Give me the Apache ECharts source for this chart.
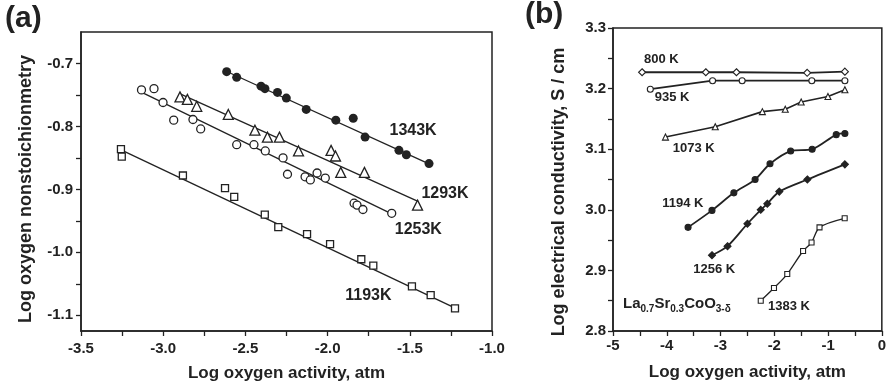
<!DOCTYPE html>
<html>
<head>
<meta charset="utf-8">
<script src="https://cdn.jsdelivr.net/npm/echarts@6/dist/echarts.min.js"></script>
<style>
html,body{margin:0;padding:0;background:#fff;}
#main{width:889px;height:388px;}
</style>
</head>
<body>
<div id="main"></div>
<script>
// ---- panel (a) : log nonstoichiometry vs log oxygen activity
var a1343 = [[-2.614,-0.713],[-2.553,-0.722],[-2.405,-0.736],[-2.381,-0.740],[-2.305,-0.746],[-2.251,-0.755],
    [-2.130,-0.773],[-1.950,-0.790],[-1.844,-0.787],[-1.772,-0.817],[-1.566,-0.838],[-1.521,-0.845],[-1.383,-0.859]];
var a1293 = [[-2.898,-0.753],[-2.853,-0.757],[-2.796,-0.768],[-2.604,-0.781],[-2.442,-0.806],[-2.366,-0.817],
    [-2.293,-0.817],[-2.177,-0.839],[-1.979,-0.838],[-1.952,-0.847],[-1.920,-0.873],[-1.776,-0.873],[-1.453,-0.925]];
var a1253 = [[-3.132,-0.742],[-3.056,-0.740],[-3.001,-0.762],[-2.936,-0.790],[-2.819,-0.789],[-2.772,-0.804],
    [-2.553,-0.829],[-2.448,-0.829],[-2.379,-0.839],[-2.271,-0.850],[-2.244,-0.876],[-2.137,-0.880],[-2.105,-0.885],
    [-2.064,-0.874],[-2.014,-0.882],[-1.839,-0.922],[-1.821,-0.925],[-1.785,-0.932],[-1.610,-0.938]];
var a1193 = [[-3.257,-0.836],[-3.252,-0.848],[-2.880,-0.878],[-2.624,-0.898],[-2.568,-0.912],[-2.382,-0.940],
    [-2.300,-0.960],[-2.125,-0.971],[-1.985,-0.987],[-1.795,-1.011],[-1.722,-1.021],[-1.487,-1.054],[-1.373,-1.068],[-1.225,-1.089]];
// fitted lines (end points)
var fit1343 = [[-2.62,-0.712],[-1.38,-0.860]];
var fit1293 = [[-2.90,-0.748],[-1.45,-0.919]];
var fit1253 = [[-3.13,-0.746],[-1.61,-0.939]];
var fit1193 = [[-3.25,-0.838],[-1.22,-1.089]];
var notesA = [['1343K',-1.48,-0.806],['1293K',-1.286,-0.906],['1253K',-1.448,-0.964],['1193K',-1.752,-1.068]];
var yTicksA = [-1.1,-1.05,-1.0,-0.95,-0.9,-0.85,-0.8,-0.75,-0.7];
var yLabelsA = [-1.1,-1.0,-0.9,-0.8,-0.7];

// ---- panel (b) : log conductivity vs log oxygen activity
var b800  = [[-4.459,3.227],[-3.274,3.227],[-2.704,3.227],[-1.389,3.226],[-0.687,3.228]];
var b935  = [[-4.306,3.199],[-3.148,3.213],[-2.598,3.213],[-1.302,3.213],[-0.687,3.213]];
var b1073 = [[-4.024,3.120],[-3.098,3.137],[-2.222,3.162],[-1.796,3.166],[-1.500,3.178],[-1.002,3.187],[-0.687,3.198]];
var b1194 = [[-3.604,2.971],[-3.159,2.999],[-2.752,3.028],[-2.357,3.050],[-2.080,3.076],[-1.696,3.097],
    [-1.296,3.100],[-0.848,3.124],[-0.687,3.126]];
var b1256 = [[-3.159,2.925],[-2.870,2.940],[-2.500,2.977],[-2.252,3.000],[-2.130,3.010],[-1.907,3.030],
    [-1.385,3.050],[-0.687,3.075]];
var b1383 = [[-2.252,2.850],[-2.006,2.871],[-1.759,2.894],[-1.465,2.932],[-1.307,2.946],[-1.159,2.971],[-0.691,2.986]];
var notesB = [['800 K',-4.10,3.248],['935 K',-3.90,3.185],['1073 K',-3.50,3.1015],['1194 K',-3.70,3.011],
    ['1256 K',-3.117,2.902],['1383 K',-1.728,2.840]];

var FONT = "'Liberation Sans', Arial, sans-serif";
var INK = '#222';

function scat(data, symbol, size, filled, gi) {
    return {
        type: 'scatter', xAxisIndex: gi, yAxisIndex: gi, data: data,
        symbol: symbol, symbolSize: size, z: 3,
        itemStyle: { opacity: 1, color: filled ? INK : '#fff', borderColor: INK, borderWidth: filled ? 0 : 1.3 }
    };
}
function fitLine(data) {
    return {
        type: 'line', xAxisIndex: 0, yAxisIndex: 0, data: data, symbol: 'none', z: 2,
        lineStyle: { color: INK, width: 1.3 }
    };
}
function curve(data, symbol, size, filled, smooth, w) {
    return {
        type: 'line', xAxisIndex: 1, yAxisIndex: 1, data: data, smooth: smooth,
        symbol: symbol, symbolSize: size, showSymbol: true,
        lineStyle: { color: INK, width: w },
        itemStyle: { color: filled ? INK : '#fff', borderColor: INK, borderWidth: 1.1 }
    };
}
function notes(list, gi, size) {
    return {
        type: 'scatter', xAxisIndex: gi, yAxisIndex: gi, symbolSize: 1, z: 4,
        itemStyle: { opacity: 1, color: 'rgba(0,0,0,0)' },
        data: list.map(function (n) { return { name: n[0], value: [n[1], n[2]] }; }),
        label: { show: true, position: 'inside', formatter: '{b}', color: INK, opacity: 1,
            fontFamily: FONT, fontWeight: 'bold', fontSize: size }
    };
}

var axisBase = {
    axisLine: { onZero: false, lineStyle: { color: INK, width: 1.5 } },
    axisTick: { show: true, inside: false, length: 5, lineStyle: { color: INK, width: 1.3 } },
    splitLine: { show: false },
    nameLocation: 'middle',
    nameTextStyle: { fontFamily: FONT, fontWeight: 'bold', fontSize: 17, color: INK }
};
function ax(o) { return Object.assign({}, JSON.parse(JSON.stringify(axisBase)), o); }

var chart = echarts.init(document.getElementById('main'));
chart.setOption({
    animation: false,
    backgroundColor: '#fff',
    grid: [
        { left: 81, top: 32, width: 411, height: 299, show: true, borderColor: INK, borderWidth: 1.5 },
        { left: 613, top: 28, width: 270, height: 303, show: true, borderColor: INK, borderWidth: 1.5 }
    ],
    xAxis: [
        ax({ type: 'value', gridIndex: 0, min: -3.5, max: -1.0, interval: 0.25,
            name: 'Log oxygen activity, atm', nameGap: 34,
            axisLabel: { margin: 10, color: INK, fontFamily: FONT, fontWeight: 'bold', fontSize: 15,
                formatter: function (v) { return Math.abs(v * 2 - Math.round(v * 2)) < 1e-6 ? v.toFixed(1) : ''; } } }),
        ax({ type: 'value', gridIndex: 1, min: -5, max: 0, interval: 0.5,
            name: 'Log oxygen activity, atm', nameGap: 33,
            axisLabel: { margin: 7, color: INK, fontFamily: FONT, fontWeight: 'bold', fontSize: 15,
                formatter: function (v) { return Math.abs(v - Math.round(v)) < 1e-6 ? String(Math.round(v)) : ''; } } })
    ],
    yAxis: [
        ax({ type: 'value', gridIndex: 0, min: -1.125, max: -0.65,
            name: 'Log oxygen nonstoichionmetry', nameGap: 46,
            nameTextStyle: { fontFamily: FONT, fontWeight: 'bold', fontSize: 18, color: INK, padding: [0, 15, 0, 0] },
            axisTick: { show: true, inside: false, length: 5, customValues: yTicksA, lineStyle: { color: INK, width: 1.3 } },
            axisLabel: { margin: 8, customValues: yLabelsA, color: INK, fontFamily: FONT, fontWeight: 'bold', fontSize: 15,
                formatter: function (v) { return v.toFixed(1); } } }),
        ax({ type: 'value', gridIndex: 1, min: 2.8, max: 3.3, interval: 0.05,
            name: 'Log electrical conductivity, S / cm', nameGap: 45,
            nameTextStyle: { fontFamily: FONT, fontWeight: 'bold', fontSize: 18, color: INK, padding: [0, 25, 0, 0] },
            axisLabel: { margin: 7, color: INK, fontFamily: FONT, fontWeight: 'bold', fontSize: 15,
                formatter: function (v) { return Math.abs(v * 10 - Math.round(v * 10)) < 1e-6 ? v.toFixed(1) : ''; } } })
    ],
    graphic: [
        { type: 'text', left: 5, top: 4, style: { text: '(a)', font: "bold 30px 'Liberation Sans', Arial", fill: INK } },
        { type: 'text', left: 525, top: 0, style: { text: '(b)', font: "bold 30px 'Liberation Sans', Arial", fill: INK } },
        { type: 'text', left: 623, top: 294, style: {
            text: '{m|La}{s|0.7}{m|Sr}{s|0.3}{m|CoO}{s|3-δ}',
            rich: {
                m: { fontFamily: FONT, fontWeight: 'bold', fontSize: 15, fill: INK, lineHeight: 18, verticalAlign: 'top' },
                s: { fontFamily: FONT, fontWeight: 'bold', fontSize: 10, fill: INK, lineHeight: 12, padding: [10, 0, 0, 0], verticalAlign: 'bottom' }
            } } }
    ],
    series: [
        fitLine(fit1343), fitLine(fit1293), fitLine(fit1253), fitLine(fit1193),
        scat(a1343, 'circle', 9, true, 0),
        scat(a1293, 'triangle', 10, false, 0),
        scat(a1253, 'circle', 8, false, 0),
        scat(a1193, 'rect', 7, false, 0),
        notes(notesA, 0, 16),
        curve(b800, 'diamond', 7, false, false, 1.8),
        curve(b935, 'circle', 6, false, false, 1.8),
        curve(b1073, 'triangle', 6, false, false, 1.6),
        curve(b1194, 'circle', 6, true, 0.3, 1.8),
        curve(b1256, 'diamond', 7, true, 0.3, 1.8),
        curve(b1383, 'rect', 5, false, 0.3, 1.3),
        notes(notesB, 1, 13)
    ]
});
</script>
</body>
</html>
